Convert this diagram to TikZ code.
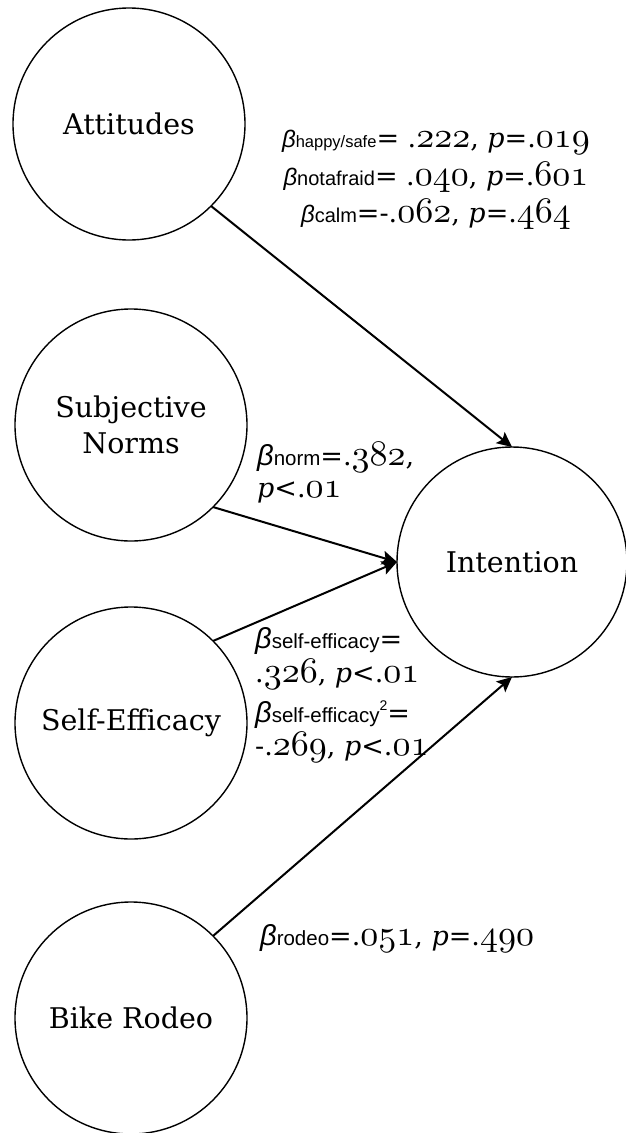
\documentclass[tikz,border=0pt]{standalone}
\usepackage{fontspec}
\setmainfont{DejaVu Serif}
\setsansfont{Liberation Sans}
\usetikzlibrary{arrows.meta}

% old-style digits from the math italic font
\font\osnfont=cmmi10 at 36pt
\newcommand{\osn}[1]{{\osnfont #1}}
% beta with a sans subscript: #1 beta size, #2 subscript size, #3 subscript
\newcommand{\bsub}[3]{{\fontsize{#1}{#1}\selectfont\sffamily\itshape β}{\fontsize{#2}{#2}\selectfont\sffamily #3}}

\begin{document}
\begin{tikzpicture}[
        x=1pt, y=-1pt,
        >=Stealth,
        construct/.style={
            draw,
            circle,
            line width=1.4pt,
            minimum size=232pt,
            inner sep=0pt,
            outer sep=0pt,
            align=center,
            font=\fontsize{28.5}{36}\selectfont
        },
        effect/.style={-{Stealth[length=15pt,width=14pt,inset=3pt]}, line width=2pt},
        coef/.style={anchor=base west, inner sep=0pt, font=\fontsize{27}{27}\selectfont}
    ]
        \useasboundingbox (0,0) rectangle (626,1133);

        \node[construct] (att) at (129,124) {Attitudes};
        \node[construct] (norm) at (131,425) {Subjective\\Norms};
        \node[construct] (self) at (131,723) {Self-Efficacy};
        \node[construct] (rodeo) at (131,1018) {Bike Rodeo};
        \node[construct, minimum size=230pt] (int) at (512,562) {Intention};

        \draw[effect] (att.south east) -- (int.north);
        \draw[effect] (norm.south east) -- (int.west);
        \draw[effect] (self.north east) -- (int.west);
        \draw[effect] (rodeo.north east) -- (int.south);

        % coefficients
        \node[coef, anchor=base] (cA1) at (436,147) {\bsub{24}{16.5}{happy/safe}= .\osn{222}, \textit{p}=.\osn{019}};
        \node[coef, anchor=base] (cA2) at (436,185) {\bsub{24}{20}{notafraid}= .\osn{040}, \textit{p}=.\osn{601}};
        \node[coef, anchor=base] (cA3) at (436,222) {\bsub{24}{20}{calm}=-.\osn{062}, \textit{p}=.\osn{464}};
        \node[coef] (cN1) at (257,465) {\bsub{29}{20.5}{norm}=.\osn{382},};
        \node[coef] (cN2) at (257,497) {\textit{p}<.\osn{01}};
        \node[coef] (cS1) at (255,648) {\bsub{29}{20.5}{self-efficacy}=};
        \node[coef] (cS2) at (255,682) {.\osn{326}, \textit{p}<.\osn{01}};
        \node[coef] (cS3) at (255,722) {\bsub{29}{20.5}{self-efficacy}\raisebox{12pt}{\fontsize{14}{14}\selectfont\sffamily 2}=};
        \node[coef] (cS4) at (255,755) {-.\osn{269}, \textit{p}<.\osn{01}};
        \node[coef] (cR) at (260,945) {\bsub{29}{20.5}{rodeo}=.\osn{051}, \textit{p}=.\osn{490}};
    \end{tikzpicture}
\end{document}
